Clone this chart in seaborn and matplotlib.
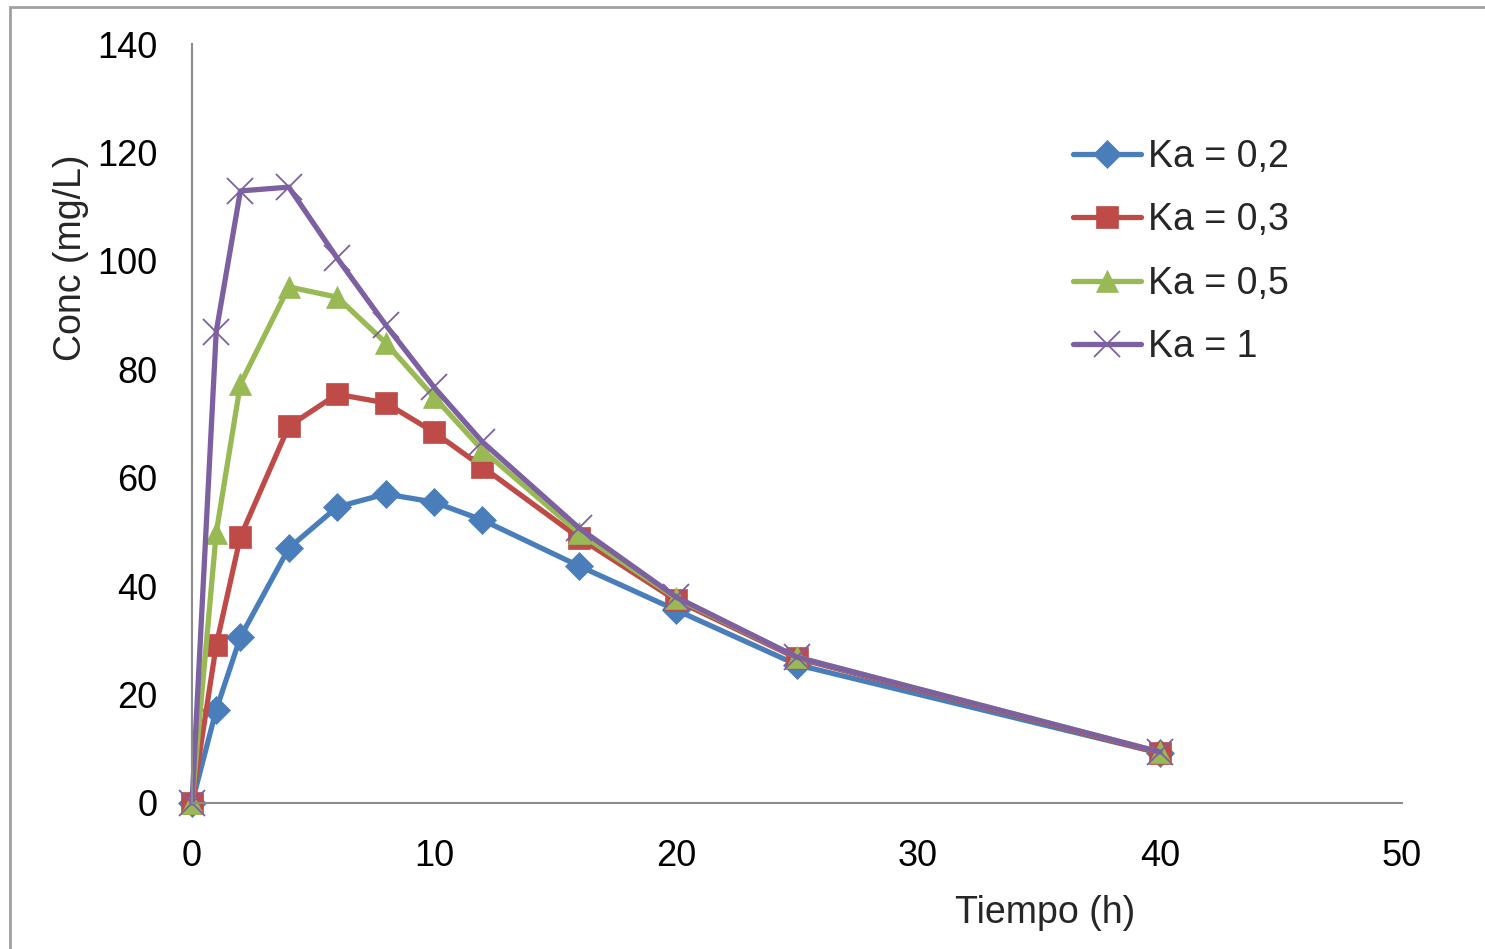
import matplotlib
matplotlib.use("Agg")
import matplotlib.pyplot as plt
import seaborn as sns
import pandas as pd
from matplotlib.patches import Rectangle

# ---- data ----
tiempo = [0, 1, 2, 4, 6, 8, 10, 12, 16, 20, 25, 40]
ka_02 = [0, 17.2, 30.6, 47.0, 54.6, 57.0, 55.5, 52.2, 43.7, 35.6, 25.5, 9.2]
ka_03 = [0, 29.1, 49.1, 69.5, 75.4, 73.8, 68.4, 62.0, 48.9, 37.4, 26.7, 9.2]
ka_05 = [0, 49.8, 77.3, 95.2, 93.3, 84.9, 74.9, 65.1, 49.8, 37.8, 26.9, 9.4]
ka_1 = [0, 86.9, 112.9, 113.6, 100.5, 88.2, 76.7, 66.6, 50.7, 38.0, 26.9, 9.4]
labels = ["Ka = 0,2", "Ka = 0,3", "Ka = 0,5", "Ka = 1"]
x_ticks = [0, 10, 20, 30, 40, 50]
y_ticks = [0, 20, 40, 60, 80, 100, 120, 140]

series = [ka_02, ka_03, ka_05, ka_1]
colors = ["#4A7EBB", "#BE4B48", "#98B954", "#7D60A0"]
markers = ["D", "s", "^", "x"]
msizes = [14, 16, 16, 19]
mews = [0.5, 0.5, 0.5, 1.3]

sns.set_theme(style="white")
plt.rcParams["font.family"] = ["Liberation Sans", "DejaVu Sans"]

fig = plt.figure(figsize=(14.85, 9.49), dpi=100)
ax = fig.add_axes([192 / 1485, 1 - 803 / 949, 1210 / 1485, 759 / 949])

for vals, lab, col, mk, ms, mw in zip(series, labels, colors, markers, msizes, mews):
    df = pd.DataFrame({"Tiempo": tiempo, "Conc": vals})
    sns.lineplot(data=df, x="Tiempo", y="Conc", ax=ax, color=col, label=lab,
                 marker=mk, markersize=ms, markeredgewidth=mw,
                 markeredgecolor=col, markerfacecolor=col,
                 linewidth=3.8, clip_on=False, errorbar=None)

ax.set_xlim(0, 50)
ax.set_ylim(0, 140)
ax.set_xticks(x_ticks)
ax.set_yticks(y_ticks)
ax.tick_params(axis="both", length=0, labelsize=26, colors="black")
ax.tick_params(axis="y", pad=25)
ax.tick_params(axis="x", pad=26)
for s in ["top", "right"]:
    ax.spines[s].set_visible(False)
for s in ["left", "bottom"]:
    ax.spines[s].set_color("#8C8C8C")
    ax.spines[s].set_linewidth(1.5)

ax.set_xlabel("Tiempo (h)", fontsize=27)
ax.xaxis.set_label_coords(0.705, -0.121)
ax.set_ylabel("Conc (mg/L)", fontsize=27)
ax.yaxis.set_label_coords(-0.085, 0.719)

leg = ax.legend(loc="upper left", bbox_to_anchor=(1073 / 1485, 1 - 139 / 949),
                bbox_transform=fig.transFigure, frameon=False, fontsize=27,
                handlelength=1.8, handletextpad=0.2, labelspacing=0.73,
                borderpad=0, borderaxespad=0)

fig.patches.append(Rectangle((10 / 1485, -0.1), 1.2, (1 - 7 / 949) + 0.1,
                             transform=fig.transFigure, fill=False,
                             edgecolor="#A0A0A0", linewidth=2))

fig.savefig("out.png", dpi=100)
